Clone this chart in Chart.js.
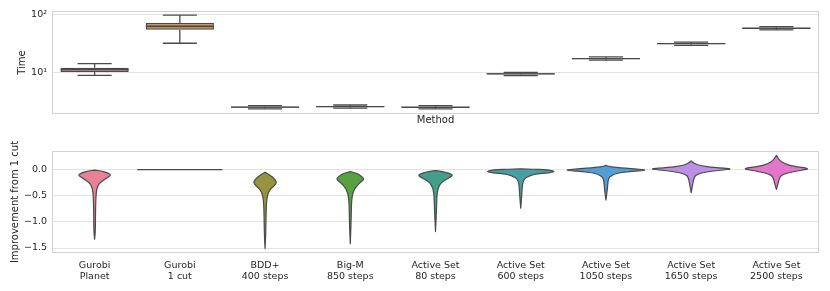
<!DOCTYPE html>
<html>
<head>
<meta charset="utf-8">
<script src="https://cdn.jsdelivr.net/npm/chart.js@4.4.0/dist/chart.umd.min.js"></script>
<style>
html,body{margin:0;padding:0;background:#fff;}
.panel{position:absolute;left:0;width:830px;}
</style>
</head>
<body>
<div class="panel" style="top:0;height:140px"><canvas id="timeChart"></canvas></div>
<div class="panel" style="top:140px;height:151px"><canvas id="gainChart"></canvas></div>
<script>
const methods = [
    ['Gurobi','Planet'], ['Gurobi','1 cut'], ['BDD+','400 steps'], ['Big-M','850 steps'],
    ['Active Set','80 steps'], ['Active Set','600 steps'], ['Active Set','1050 steps'],
    ['Active Set','1650 steps'], ['Active Set','2500 steps']
];
const huslColors = ['#f77189','#d58c32','#a4a031','#50b131','#34ae91','#37abb5','#3ba3ec','#bb83f4','#f564d4'];

// run time box plots (log axis)
const timeLow    = [9.1, 32.5, 2.41, 2.47, 2.40, 9.02, 16.6, 30.0, 55.4];
const timeQ1     = [10.4, 55.8, 2.51, 2.57, 2.50, 9.39, 17.3, 31.3, 57.6];
const timeMedian = [11.4, 63.8, 2.57, 2.63, 2.56, 9.61, 17.7, 32.0, 59.0];
const timeQ3     = [12.3, 72.8, 2.63, 2.69, 2.62, 9.84, 18.1, 32.8, 60.4];
const timeHigh   = [14.5, 99.0, 2.74, 2.80, 2.73, 10.24, 18.9, 34.1, 62.9];
const timeTicks  = [10, 100];

// violin outlines: [improvement, width as share of the category slot]
const planetShape = [[-0.013,0],[-0.025,0.14],[-0.063,0.305],[-0.108,0.39],[-0.152,0.305],[-0.203,0.21],[-0.266,0.105],[-0.361,0.05],[-0.52,0.03],[-0.77,0.022],[-1.0,0.02],[-1.2,0.016],[-1.33,0]];
const oneCutShape = [[0,1]];
const bddShape = [[-0.051,0],[-0.108,0.117],[-0.171,0.21],[-0.234,0.275],[-0.298,0.235],[-0.361,0.14],[-0.425,0.085],[-0.52,0.05],[-0.646,0.032],[-0.9,0.022],[-1.2,0.018],[-1.51,0]];
const bigMShape = [[-0.038,0],[-0.076,0.164],[-0.127,0.258],[-0.184,0.333],[-0.247,0.235],[-0.33,0.13],[-0.425,0.072],[-0.52,0.04],[-0.7,0.025],[-1.0,0.02],[-1.42,0]];
const as80Shape = [[-0.02,0],[-0.044,0.19],[-0.076,0.33],[-0.108,0.405],[-0.139,0.36],[-0.184,0.26],[-0.234,0.16],[-0.298,0.094],[-0.393,0.05],[-0.52,0.032],[-0.8,0.022],[-1.185,0]];
const as600Shape = [[0.013,0],[0.008,0.3],[0.0,0.55],[-0.015,0.7],[-0.035,0.78],[-0.05,0.77],[-0.065,0.6],[-0.08,0.4],[-0.11,0.25],[-0.14,0.15],[-0.18,0.09],[-0.23,0.055],[-0.33,0.035],[-0.5,0.024],[-0.74,0]];
const as1050Shape = [[0.082,0],[0.06,0.05],[0.038,0.22],[0.013,0.69],[-0.013,1.0],[-0.038,0.53],[-0.076,0.22],[-0.14,0.08],[-0.2,0.05],[-0.39,0.032],[-0.583,0]];
const as1650Shape = [[0.165,0],[0.114,0.07],[0.07,0.23],[0.038,0.52],[0.013,1.0],[-0.013,0.7],[-0.044,0.35],[-0.089,0.14],[-0.139,0.07],[-0.266,0.038],[-0.444,0]];
const as2500Shape = [[0.272,0],[0.177,0.07],[0.114,0.19],[0.063,0.38],[0.019,0.8],[-0.013,0.59],[-0.044,0.38],[-0.089,0.16],[-0.139,0.08],[-0.234,0.05],[-0.38,0]];
const violinShapes = [planetShape, oneCutShape, bddShape, bigMShape, as80Shape, as600Shape, as1050Shape, as1650Shape, as2500Shape];
const gainTicks = [-1.5, -1.0, -0.5, 0.0];

// seaborn style saturation 0.75: pull channels toward lightness
const desaturate=(hex,k)=>{
    const c=[1,3,5].map(i=>parseInt(hex.slice(i,i+2),16));
    const l=(Math.max(...c)+Math.min(...c))/2;
    return 'rgb('+c.map(v=>Math.round(l+(v-l)*k)).join(',')+')';
}
const fillColors = huslColors.map(h=>desaturate(h,0.75));

Chart.defaults.font.family = 'DejaVu Sans';
Chart.defaults.color = '#262626';
const tickFont = {size: 9.5, lineHeight: 1.16};
const titleFont = {size: 10};
const GRID = '#e3e3e3';
const EDGE = '#4a4a4a';

const framePlugin = {
    id: 'frame',
    afterDraw(chart){
        const {ctx, chartArea: a} = chart;
        ctx.save();
        ctx.strokeStyle = '#d2d2d2';
        ctx.lineWidth = 1;
        ctx.strokeRect(a.left+0.5, a.top+0.5, a.right-a.left-1, a.bottom-a.top-1);
        ctx.restore();
    }
};

const whiskerPlugin = {
    id: 'whiskers',
    afterDatasetsDraw(chart){
        const {ctx, scales:{x, y}} = chart;
        const slot = x.getPixelForValue(1) - x.getPixelForValue(0);
        ctx.save();
        ctx.strokeStyle = EDGE;
        ctx.lineWidth = 1.3;
        const seg=(x1,y1,x2,y2)=>{ctx.beginPath();ctx.moveTo(x1,y1);ctx.lineTo(x2,y2);ctx.stroke();};
        methods.forEach((m, i) => {
            const cx = x.getPixelForValue(i);
            seg(cx, y.getPixelForValue(timeQ3[i]), cx, y.getPixelForValue(timeHigh[i]));
            seg(cx, y.getPixelForValue(timeQ1[i]), cx, y.getPixelForValue(timeLow[i]));
            const capHalf = slot*0.2;
            seg(cx-capHalf, y.getPixelForValue(timeHigh[i]), cx+capHalf, y.getPixelForValue(timeHigh[i]));
            seg(cx-capHalf, y.getPixelForValue(timeLow[i]), cx+capHalf, y.getPixelForValue(timeLow[i]));
            const boxHalf = slot*0.4;
            seg(cx-boxHalf, y.getPixelForValue(timeMedian[i]), cx+boxHalf, y.getPixelForValue(timeMedian[i]));
        });
        ctx.restore();
    }
};

const supers = {'1':'\u00B9','2':'\u00B2','3':'\u00B3','0':'\u2070'};

new Chart(document.getElementById('timeChart'), {
    type: 'bar',
    data: {
        labels: methods,
        datasets: [{
            data: timeQ1.map((q,i)=>[q, timeQ3[i]]),
            backgroundColor: fillColors,
            borderColor: EDGE,
            borderWidth: 1.4,
            borderSkipped: false,
            barPercentage: 0.8,
            categoryPercentage: 1.0
        }]
    },
    options: {
        responsive: true,
        maintainAspectRatio: false,
        animation: false,
        layout: {padding: {top: 11, right: 11, left: 0, bottom: 0}},
        plugins: {legend: {display: false}, tooltip: {enabled: false}},
        scales: {
            x: {
                offset: true,
                grid: {display: false},
                border: {display: false},
                ticks: {display: false},
                title: {display: true, text: 'Method', font: titleFont, padding: {top: 0, bottom: 14}},
                afterFit: s => { s.height = 26; }
            },
            y: {
                type: 'logarithmic',
                min: 1.96,
                max: 117,
                afterBuildTicks: s => { s.ticks = timeTicks.map(v => ({value: v})); },
                ticks: {
                    font: tickFont,
                    padding: 5,
                    callback: v => '10' + String(Math.round(Math.log10(v))).split('').map(d=>supers[d]).join('')
                },
                grid: {color: GRID, drawTicks: false},
                border: {display: false},
                title: {display: true, text: 'Time', font: titleFont, padding: {top: 16, bottom: 0}},
                afterFit: s => { s.width = 52; }
            }
        }
    },
    plugins: [whiskerPlugin, framePlugin]
});

const violinPlugin = {
    id: 'violins',
    afterDatasetsDraw(chart){
        const {ctx, scales:{x, y}} = chart;
        const slot = x.getPixelForValue(1) - x.getPixelForValue(0);
        const mid=(a,b)=>[(a[0]+b[0])/2,(a[1]+b[1])/2];
        ctx.save();
        ctx.strokeStyle = EDGE;
        ctx.lineWidth = 1.2;
        ctx.lineJoin = 'round';
        violinShapes.forEach((shape, i) => {
            const cx = x.getPixelForValue(i);
            const right = shape.map(([v,w]) => [cx + w*slot/2, y.getPixelForValue(v)]);
            const left = shape.slice().reverse().map(([v,w]) => [cx - w*slot/2, y.getPixelForValue(v)]);
            const pts = right.concat(left);
            ctx.beginPath();
            if (shape.length < 2) {
                // all values equal: seaborn draws a flat line
                ctx.moveTo(pts[1][0], pts[1][1]);
                ctx.lineTo(pts[0][0], pts[0][1]);
                ctx.stroke();
                return;
            }
            const start = mid(pts[pts.length-1], pts[0]);
            ctx.moveTo(start[0], start[1]);
            for(let k=0;k<pts.length;k++){
                const p = pts[k], n = mid(p, pts[(k+1)%pts.length]);
                ctx.quadraticCurveTo(p[0], p[1], n[0], n[1]);
            }
            ctx.closePath();
            ctx.fillStyle = fillColors[i];
            ctx.fill();
            ctx.stroke();
        });
        ctx.restore();
    }
};

new Chart(document.getElementById('gainChart'), {
    type: 'bar',
    data: {labels: methods, datasets: []},
    options: {
        responsive: true,
        maintainAspectRatio: false,
        animation: false,
        layout: {padding: {top: 11, right: 11, left: 0, bottom: 0}},
        plugins: {legend: {display: false}, tooltip: {enabled: false}},
        scales: {
            x: {
                offset: true,
                grid: {display: false},
                border: {display: false},
                ticks: {font: tickFont, padding: -1, maxRotation: 0, autoSkip: false},
                afterFit: s => { s.height = 38; }
            },
            y: {
                type: 'linear',
                min: -1.595,
                max: 0.354,
                afterBuildTicks: s => { s.ticks = gainTicks.map(v => ({value: v})); },
                ticks: {
                    font: tickFont,
                    padding: 5,
                    callback: v => v.toFixed(1).replace('-', '\u2212')
                },
                grid: {color: GRID, drawTicks: false},
                border: {display: false},
                title: {display: true, text: 'Improvement from 1 cut', font: titleFont, padding: {top: 9, bottom: 0}},
                afterFit: s => { s.width = 52; }
            }
        }
    },
    plugins: [violinPlugin, framePlugin]
});
</script>
</body>
</html>
